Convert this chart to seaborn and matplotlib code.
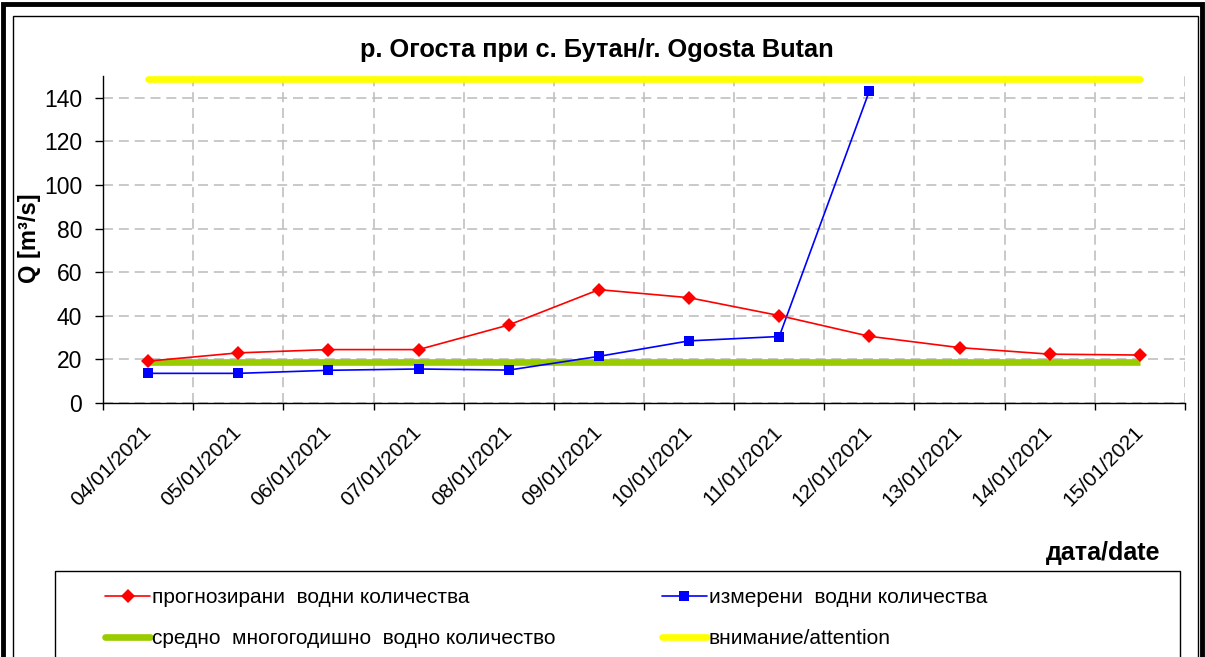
import numpy as np
import pandas as pd
import matplotlib.pyplot as plt
from matplotlib.patches import Rectangle
from matplotlib.lines import Line2D
import seaborn as sns

# values
dates = ['04/01/2021', '05/01/2021', '06/01/2021', '07/01/2021', '08/01/2021', '09/01/2021',
         '10/01/2021', '11/01/2021', '12/01/2021', '13/01/2021', '14/01/2021', '15/01/2021']
forecast = [19.2, 23.0, 24.5, 24.5, 35.8, 52.0, 48.3, 40.1, 30.6, 25.4, 22.4, 22.0]
measured = [13.6, 13.6, 15.0, 15.6, 15.1, 21.4, 28.5, 30.5, 143.2, None, None, None]
average = [18.7] * 12
attention = [148.6] * 12

labels = ['прогнозирани  водни количества', 'средно  многогодишно  водно количество',
          'измерени  водни количества', 'внимание/attention']

sns.set_style("white")
plt.rcParams['font.family'] = ['Liberation Sans', 'DejaVu Sans']
plt.rcParams['text.color'] = 'black'
plt.rcParams['xtick.color'] = 'black'
plt.rcParams['ytick.color'] = 'black'

df = pd.DataFrame({'date': dates, 'forecast': forecast, 'measured': measured,
                   'average': average, 'attention': attention})
df['pos'] = np.arange(len(df)) + 0.5

fig = plt.figure(figsize=(12.05, 6.57), dpi=100)
ax = fig.add_axes([103 / 1205, 1 - 403 / 657, (1185 - 103) / 1205, (403 - 76) / 657])

sns.lineplot(data=df, x='pos', y='attention', color='#ffff00', lw=4.8,
             solid_capstyle='round', ax=ax, zorder=2)
sns.lineplot(data=df, x='pos', y='average', color='#99cc00', lw=4.8,
             solid_capstyle='butt', ax=ax, zorder=3)
sns.lineplot(data=df.dropna(subset=['measured']), x='pos', y='measured', color='#0000ff',
             lw=1.2, marker='s', markersize=7, markeredgewidth=0, ax=ax, zorder=4)
sns.lineplot(data=df, x='pos', y='forecast', color='#ff0000', lw=1.2,
             marker='D', markersize=7, markeredgewidth=0, ax=ax, zorder=5)

ax.set_xlim(0, len(dates))
ax.set_ylim(0, 150)
ax.set_yticks(range(0, 141, 20))
ax.set_xticks(np.arange(len(dates) + 1))
ax.set_xticklabels([])
ax.set_xticks(df['pos'], minor=True)
ax.set_xticklabels(dates, minor=True, rotation=45, ha='right', va='center',
                   rotation_mode='anchor', fontsize=15)
ax.tick_params(axis='x', which='minor', length=0, pad=19)
ax.tick_params(axis='x', which='major', direction='out', length=5, width=1, color='black', bottom=True)
ax.tick_params(axis='y', direction='out', length=6, width=1, color='black', left=True,
               labelsize=16.5, pad=9)
ax.grid(True, which='major', color='#c0c0c0', ls=(0, (6, 3.5)), lw=1.2)
ax.set_axisbelow(True)
ax.set_xlabel('')
ax.set_ylabel('')
for s in ['top', 'right']:
    ax.spines[s].set_visible(False)
for s in ['left', 'bottom']:
    ax.spines[s].set_color('black')
    ax.spines[s].set_linewidth(1)

fig.text(597 / 1205, 1 - 50 / 657, 'р. Огоста при с. Бутан/r. Ogosta Butan',
         ha='center', va='center', fontsize=18.3, fontweight='bold')
fig.text(30 / 1205, 1 - 238 / 657, 'Q [m³/s]', rotation=90, ha='center', va='center',
         fontsize=17, fontweight='bold')
fig.text(1160 / 1205, 1 - 553 / 657, 'дата/date', ha='right', va='center',
         fontsize=18, fontweight='bold')

# outer double frame and legend box
fig.patches.append(Rectangle((3 / 1205, -0.05), 1199 / 1205, 1.0 + 0.05 - 4 / 657,
                             transform=fig.transFigure, fill=False, ec='black', lw=3.5))
fig.patches.append(Rectangle((13 / 1205, -0.05), (1198 - 13) / 1205, 1.0 + 0.05 - 16 / 657,
                             transform=fig.transFigure, fill=False, ec='black', lw=1))
fig.patches.append(Rectangle((55 / 1205, -0.05), (1180 - 55) / 1205, 1.05 - 571 / 657,
                             transform=fig.transFigure, fill=False, ec='black', lw=1))

handles = [Line2D([], [], color='#ff0000', lw=1.2, marker='D', markersize=7, markeredgewidth=0),
           Line2D([], [], color='#99cc00', lw=4.8, solid_capstyle='round'),
           Line2D([], [], color='#0000ff', lw=1.2, marker='s', markersize=7, markeredgewidth=0),
           Line2D([], [], color='#ffff00', lw=4.8, solid_capstyle='round')]
fig.legend(handles, labels, loc='upper left', bbox_to_anchor=(97 / 1205, 1 - 580 / 657),
           ncol=2, frameon=False, fontsize=15, handlelength=2.15, handletextpad=0.1,
           columnspacing=5.1, labelspacing=1.05, borderaxespad=0)

fig.savefig('out.png', dpi=100)
